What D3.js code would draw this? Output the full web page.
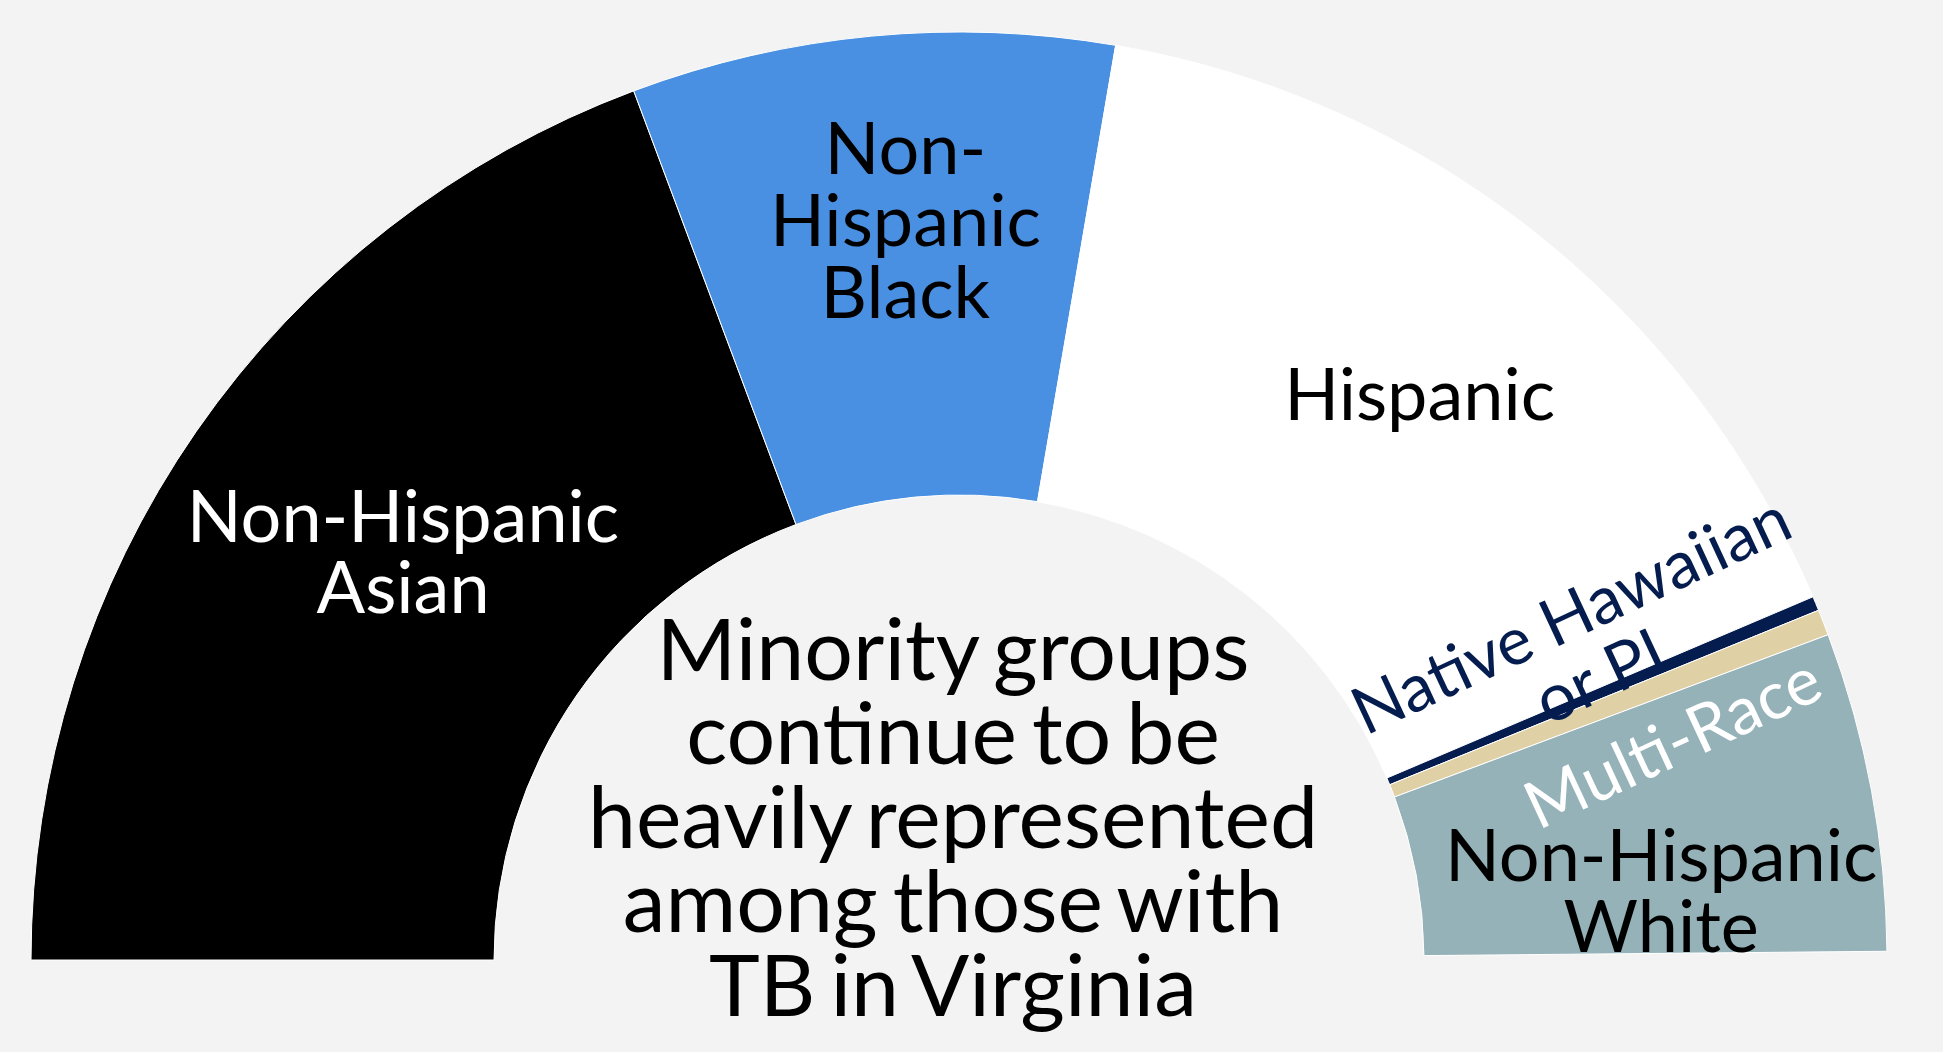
<!DOCTYPE html>
<html>
<head>
<meta charset="utf-8">
<script src="https://cdn.jsdelivr.net/npm/d3@7"></script>
<style>
    html, body { margin: 0; padding: 0; background: #f3f3f3; }
    text { font-family: Lato, "Open Sans", sans-serif; }
</style>
</head>
<body>
<div id="chart"></div>
<script>
// share of TB cases by race / ethnicity (percent)
var groups = ["Non-Hispanic Asian", "Non-Hispanic Black", "Hispanic",
    "Native Hawaiian or PI", "Multi-Race", "Non-Hispanic White"];
var percents = [38.6, 16.8, 31.8, 0.5, 0.9, 11.1];
var colors = ["#000000", "#4a90e2", "#ffffff", "#041c4e", "#dfd0a5", "#95b2b8"];
var centerLines = ["Minority groups", "continue to be", "heavily represented",
    "among those with", "TB in Virginia"];

var svgWidth = 1943;
var svgHeight = 1052;
var cx = 959, cy = 960;
var outerR = 928, innerR = 465;

var svg = d3.select("#chart")
    .append("svg")
    .attr("width", svgWidth)
    .attr("height", svgHeight);

svg.append("rect")
    .attr("width", svgWidth)
    .attr("height", svgHeight)
    .attr("fill", "#f3f3f3");

var chartGroup = svg.append("g")
    .attr("transform", `translate(${cx}, ${cy})`);

// 100% of cases maps onto the half circle
var angleScale = d3.scaleLinear()
    .domain([0, 100])
    .range([-Math.PI / 2, Math.PI / 2]);

var data = groups.map((g, i) => ({ group: g, value: percents[i], color: colors[i] }));

var pie = d3.pie()
    .sort(null)
    .value(d => d.value)
    .startAngle(angleScale(0))
    .endAngle(angleScale(d3.sum(percents)));

var arcs = pie(data);

var arc = d3.arc()
    .innerRadius(innerR)
    .outerRadius(outerR);

chartGroup.selectAll("path")
    .data(arcs)
    .enter()
    .append("path")
    .attr("d", arc)
    .attr("fill", d => d.data.color)
    .attr("stroke", "#ffffff")
    .attr("stroke-width", 1);

// label placement: radius along the slice middle, plus a nudge
var labels = {
    "Non-Hispanic Asian": { lines: ["Non-Hispanic", "Asian"], r: 690, dx: 11, dy: -15, size: 72, step: 71, fill: "#fff", rot: 0 },
    "Non-Hispanic Black": { lines: ["Non-", "Hispanic", "Black"], r: 740, dx: 16, dy: -3, size: 72, step: 72, fill: "#000", rot: 0 },
    "Hispanic": { lines: ["Hispanic"], r: 720, dx: 14, dy: -1, size: 72, step: 72, fill: "#000", rot: 0 },
    "Native Hawaiian or PI": { lines: ["Native Hawaiian", "or PI"], r: 690, dx: -11, dy: -50, size: 66, step: 68, fill: "#041c4e", rot: -25 },
    "Multi-Race": { lines: ["Multi-Race"], r: 770, dx: -4, dy: 62, size: 66, step: 68, fill: "#fff", rot: -25 },
    "Non-Hispanic White": { lines: ["Non-Hispanic", "White"], r: 700, dx: 14, dy: 59, size: 72, step: 71, fill: "#000", rot: 0 }
};

arcs.forEach(function (d) {
    var lab = labels[d.data.group];
    var c = d3.arc().innerRadius(lab.r).outerRadius(lab.r).centroid(d);
    var x = c[0] + lab.dx;
    var y = c[1] + lab.dy;
    var first = -(lab.lines.length - 1) * lab.step / 2 + 0.36 * lab.size;
    var t = chartGroup.append("text")
        .attr("transform", `translate(${x}, ${y}) rotate(${lab.rot})`)
        .attr("text-anchor", "middle")
        .style("font-size", lab.size + "px")
        .style("fill", lab.fill);
    lab.lines.forEach(function (line, i) {
        t.append("tspan")
            .attr("x", 0)
            .attr("y", first + i * lab.step)
            .text(line);
    });
});

// headline in the hole of the half donut
var headSize = 86, headStep = 84;
var head = chartGroup.append("text")
    .attr("transform", `translate(-6, ${-143})`)
    .attr("text-anchor", "middle")
    .style("font-size", headSize + "px")
    .style("word-spacing", "-7px")
    .style("fill", "#000");

head.selectAll("tspan")
    .data(centerLines)
    .enter()
    .append("tspan")
    .attr("x", 0)
    .attr("y", (d, i) => -(centerLines.length - 1) * headStep / 2 + 0.36 * headSize + i * headStep)
    .text(d => d);
</script>
</body>
</html>
